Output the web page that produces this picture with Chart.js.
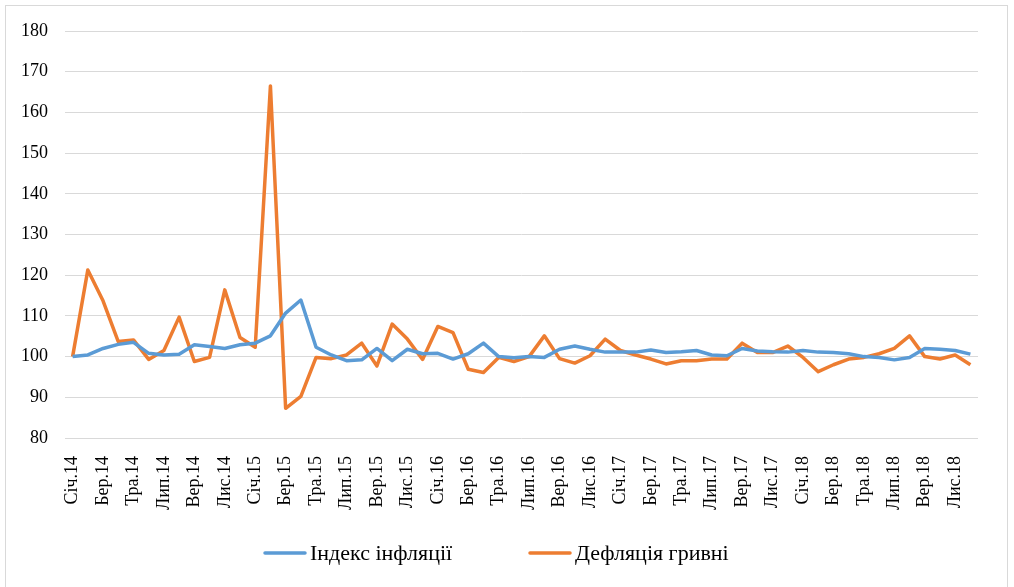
<!DOCTYPE html>
<html>
<head>
<meta charset="utf-8">
<script src="https://cdn.jsdelivr.net/npm/chart.js@4"></script>
<style>
  html, body { margin: 0; padding: 0; background: #fff; }
  #wrap { width: 1014px; height: 587px; position: relative; }
</style>
</head>
<body>
<div id="wrap"><canvas id="chart" width="1014" height="587"></canvas></div>
<script>
// Month names (Ukrainian abbreviations) and years covered
const monthNames = ['Січ', 'Лют', 'Бер', 'Кві', 'Тра', 'Чер', 'Лип', 'Сер', 'Вер', 'Жов', 'Лис', 'Гру'];
const years = ['14', '15', '16', '17', '18'];

// Monthly inflation index, %
const inflationIndex = [
  100.0, 100.4, 102.0, 103.0, 103.5, 100.8, 100.4, 100.6, 102.9, 102.5, 102.0, 102.9,
  103.3, 105.1, 110.7, 113.9, 102.3, 100.4, 99.0, 99.2, 102.0, 99.0, 101.8, 100.7,
  100.8, 99.4, 100.7, 103.3, 100.0, 99.7, 100.0, 99.8, 101.8, 102.6, 101.8, 101.1,
  101.1, 101.1, 101.6, 101.0, 101.2, 101.5, 100.4, 100.2, 102.0, 101.4, 101.2, 101.1,
  101.5, 101.1, 101.0, 100.7, 100.0, 99.8, 99.2, 99.8, 102.0, 101.8, 101.5, 100.6
];

// Monthly hryvnia deflation, %
const hryvniaDeflation = [
  100.0, 121.3, 113.7, 103.7, 104.1, 99.3, 101.5, 109.7, 98.8, 99.8, 116.4, 104.7,
  102.3, 166.5, 87.3, 90.2, 99.8, 99.5, 100.4, 103.3, 97.7, 108.0, 104.3, 99.3,
  107.4, 105.9, 96.9, 96.1, 99.8, 98.8, 100.0, 105.1, 99.5, 98.4, 100.2, 104.3,
  101.5, 100.4, 99.4, 98.2, 99.0, 99.0, 99.4, 99.4, 103.3, 101.0, 101.0, 102.6,
  99.8, 96.3, 98.0, 99.4, 99.8, 100.7, 102.0, 105.1, 100.0, 99.4, 100.4, 98.0
];

const seriesNames = ['Індекс інфляції', 'Дефляція гривні'];
const yTicks = [80, 90, 100, 110, 120, 130, 140, 150, 160, 170, 180];

const categories = [];
years.forEach(y => monthNames.forEach(m => categories.push(m + '.' + y)));

const serif = '"Liberation Serif", "Times New Roman", serif';
const colors = ['#5B9BD5', '#ED7D31'];

// Outer frame around the whole chart
const framePlugin = {
  id: 'frame',
  beforeDraw(chart) {
    const ctx = chart.ctx;
    ctx.save();
    ctx.fillStyle = '#fff';
    ctx.fillRect(0, 0, chart.width, chart.height);
    ctx.strokeStyle = '#d9d9d9';
    ctx.lineWidth = 1;
    ctx.strokeRect(5.5, 5.5, chart.width - 12, chart.height - 4);
    ctx.restore();
  }
};

// Legend row at the bottom: line sample followed by series name
const bottomLegend = {
  id: 'bottomLegend',
  afterDraw(chart) {
    const ctx = chart.ctx;
    const y = 553;
    const starts = [265, 530];
    ctx.save();
    ctx.font = '22px ' + serif;
    ctx.textBaseline = 'middle';
    ctx.textAlign = 'left';
    chart.data.datasets.forEach((ds, i) => {
      const x = starts[i];
      ctx.strokeStyle = ds.borderColor;
      ctx.lineWidth = 3.5;
      ctx.lineCap = 'round';
      ctx.beginPath();
      ctx.moveTo(x, y);
      ctx.lineTo(x + 40, y);
      ctx.stroke();
      ctx.fillStyle = '#000';
      ctx.fillText(ds.label, x + 45, y + 1);
    });
    ctx.restore();
  }
};

new Chart(document.getElementById('chart'), {
  type: 'line',
  data: {
    labels: categories,
    datasets: [
      {
        label: seriesNames[0],
        data: inflationIndex,
        borderColor: colors[0],
        backgroundColor: colors[0],
        borderWidth: 3.5,
        pointRadius: 0,
        tension: 0,
        borderJoinStyle: 'round'
      },
      {
        label: seriesNames[1],
        data: hryvniaDeflation,
        borderColor: colors[1],
        backgroundColor: colors[1],
        borderWidth: 3.5,
        pointRadius: 0,
        tension: 0,
        borderJoinStyle: 'round'
      }
    ]
  },
  options: {
    responsive: false,
    animation: false,
    devicePixelRatio: 1,
    layout: { padding: { left: 0, right: 36, top: 31, bottom: 0 } },
    plugins: {
      legend: { display: false },
      tooltip: { enabled: false }
    },
    scales: {
      x: {
        offset: true,
        grid: { display: false },
        border: { display: false },
        ticks: {
          autoSkip: false,
          maxRotation: 90,
          minRotation: 90,
          padding: 10,
          color: '#000',
          font: { family: serif, size: 18 },
          callback: function (value, index) {
            return index % 2 === 0 ? this.getLabelForValue(value) : '';
          }
        },
        afterFit(scale) { scale.height = 149; }
      },
      y: {
        min: 80,
        max: 180,
        afterBuildTicks(scale) { scale.ticks = yTicks.map(v => ({ value: v })); },
        grid: { color: '#d9d9d9', lineWidth: 1, drawTicks: false },
        border: { display: false },
        ticks: {
          padding: 17,
          color: '#000',
          font: { family: serif, size: 18 }
        },
        afterFit(scale) { scale.width = 65; }
      }
    }
  },
  plugins: [framePlugin, bottomLegend]
});
</script>
</body>
</html>
